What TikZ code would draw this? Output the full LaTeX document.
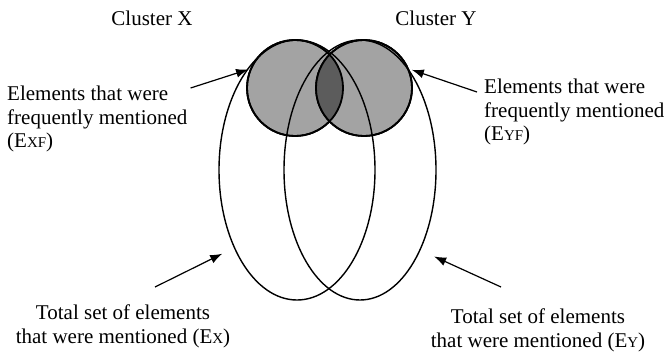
\documentclass[tikz,border=0pt]{standalone}
\usepackage{fontspec}
\setmainfont{Liberation Serif}
\usetikzlibrary{arrows.meta, shapes.geometric}

\definecolor{dotgray}{gray}{0.64}
\definecolor{lensgray}{gray}{0.36}
\newcommand{\sub}[1]{{\fontsize{15}{15}\selectfont #1}}

\begin{document}
\begin{tikzpicture}[
    x=1pt, y=1pt,
    setcirc/.style={circle, draw, line width=1.8pt, fill=dotgray, minimum size=96pt, inner sep=0pt},
    setell/.style={ellipse, draw, line width=1.4pt, inner sep=0pt},
    lbl/.style={font=\fontsize{21}{23.5}\selectfont, inner sep=0pt},
    arr/.style={-{Latex[length=12pt, width=9pt]}, line width=1.2pt}
]
    \useasboundingbox (0,0) rectangle (668,354);

    % frequently mentioned elements
    \node[setcirc] (cx) at (295,266) {};
    \node[setcirc] (cy) at (364,266) {};
    \begin{scope}
        \clip (cx.center) circle (48pt);
        \fill[lensgray] (cy.center) circle (48pt);
    \end{scope}
    \draw[line width=1.8pt] (cx.center) circle (48pt);
    \draw[line width=1.8pt] (cy.center) circle (48pt);

    % all mentioned elements
    \node[setell, minimum width=156pt, minimum height=260pt] (ex) at (297,184) {};
    \node[setell, minimum width=152pt, minimum height=260pt] (ey) at (360,184) {};

    \node[lbl] (clx) at (152,336) {Cluster X};
    \node[lbl] (cly) at (436,336) {Cluster Y};

    \node[lbl, align=left, anchor=north west] (lxf) at (7,268)
        {Elements that were\\frequently mentioned\\(E\sub{XF})};
    \node[lbl, align=left, anchor=north west] (lyf) at (484,275)
        {Elements that were\\frequently mentioned\\(E\sub{YF})};
    \node[lbl, align=center, anchor=north] (lx) at (123,49)
        {Total set of elements\\that were mentioned (E\sub{X})};
    \node[lbl, align=center, anchor=north] (ly) at (538,45)
        {Total set of elements\\that were mentioned (E\sub{Y})};

    \draw[arr, shorten >=2pt] ([shift={(3pt,-2pt)}]lxf.north east) -- (cx.157);
    \draw[arr, shorten >=3pt] ([shift={(-7pt,-13pt)}]lyf.north west) -- (cy.23);
    \draw[arr, shorten >=13pt] ([shift={(32pt,18pt)}]lx.north) -- (ex.231);
    \draw[arr, shorten >=15pt] ([shift={(-37pt,22pt)}]ly.north) -- (ey.307);
\end{tikzpicture}
\end{document}
